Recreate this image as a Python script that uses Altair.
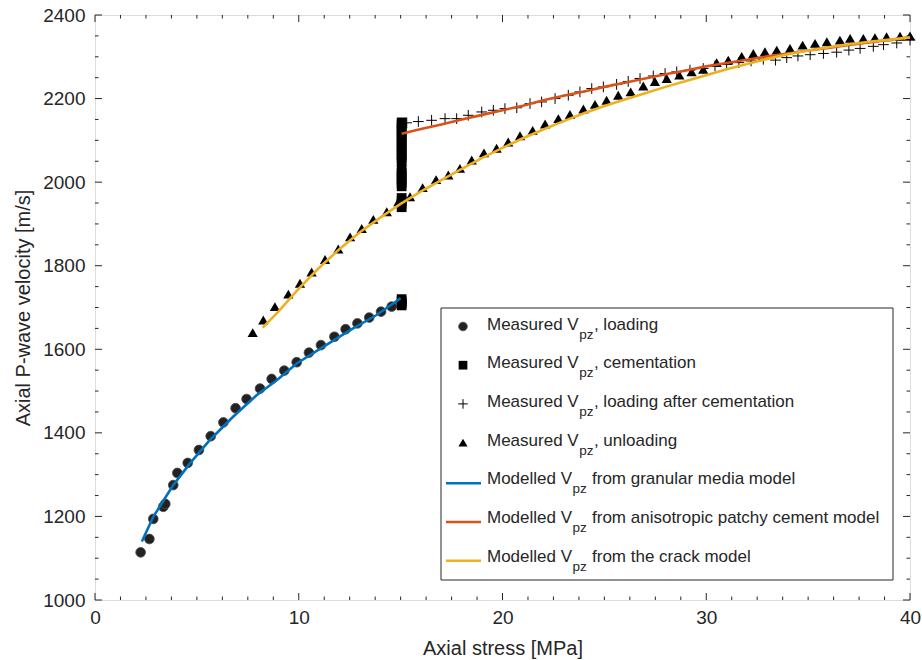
import altair as alt
import pandas as pd

# ---------------- data ----------------
x_load = [2.24, 2.67, 2.86, 3.35, 3.45, 3.84, 4.04, 4.55, 5.1, 5.68, 6.3, 6.9, 7.44, 8.1,
          8.67, 9.29, 9.9, 10.5, 11.09, 11.75, 12.3, 12.88, 13.46, 14.04, 14.56, 15.05]
v_load = [1114, 1146, 1194, 1223, 1230, 1275, 1304, 1328, 1359, 1392, 1425, 1459, 1481, 1506,
          1529, 1549, 1569, 1592, 1610, 1630, 1648, 1662, 1676, 1690, 1702, 1711]

x_cem = [15.05] * 27
v_cem = [1705, 1710, 1715, 1720, 1940, 1948, 1955, 1962, 1990, 1998, 2006, 2014, 2022, 2030,
         2050, 2058, 2066, 2074, 2082, 2090, 2098, 2106, 2114, 2122, 2130, 2138, 2143]

x_lac = [15.3, 15.87, 16.52, 17.18, 17.75, 18.32, 18.98, 19.55, 20.12, 20.7, 21.35, 21.92, 22.58,
         23.23, 23.8, 24.38, 24.95, 25.6, 26.17, 26.75, 27.4, 27.98, 28.55, 29.2, 29.85, 30.43,
         31.0, 31.6, 32.2, 32.8, 33.4, 33.95, 34.5, 35.1, 35.75, 36.4, 37.0, 37.55, 38.2, 38.7,
         39.35, 40.0]
v_lac = [2142, 2145, 2148, 2152, 2152, 2160, 2168, 2172, 2176, 2178, 2188, 2192, 2200,
         2208, 2216, 2224, 2228, 2234, 2241, 2248, 2254, 2260, 2264, 2268, 2272, 2278,
         2282, 2286, 2290, 2294, 2292, 2298, 2302, 2305, 2308, 2311, 2316, 2320, 2325, 2329,
         2333, 2340]

x_unl = [7.74, 8.26, 8.83, 9.49, 10.06, 10.63, 11.29, 11.94, 12.52, 13.09, 13.66, 14.32, 14.89,
         15.46, 16.08, 16.74, 17.34, 17.91, 18.49, 19.09, 19.71, 20.28, 20.86, 21.48, 22.09,
         22.74, 23.31, 23.97, 24.54, 25.11, 25.68, 26.29, 26.91, 27.48, 28.06, 28.68, 29.28,
         29.85, 30.51, 31.08, 31.74, 32.31, 32.88, 33.46, 34.11, 34.73, 35.34, 35.92, 36.56,
         37.06, 37.71, 38.28, 38.85, 39.51, 40.0]
v_unl = [1640, 1670, 1702, 1732, 1758, 1785, 1815, 1840, 1869, 1889, 1911, 1929, 1953,
         1965, 1987, 2006, 2017, 2033, 2053, 2070, 2081, 2096, 2111, 2124, 2139,
         2152, 2162, 2175, 2186, 2196, 2208, 2216, 2230, 2241, 2248, 2256, 2264,
         2270, 2286, 2292, 2301, 2308, 2312, 2316, 2320, 2328, 2332, 2336, 2340,
         2344, 2344, 2346, 2348, 2349, 2350]

x_gran = [2.3, 2.86, 3.84, 4.66, 5.64, 6.79, 7.93, 8.92, 9.9, 11.2, 12.52, 13.82, 15.0]
v_gran = [1140, 1199, 1275, 1327, 1383, 1439, 1490, 1526, 1566, 1606, 1646, 1682, 1722]

x_patch = [15.05, 16, 17, 18, 19, 20, 21, 22, 23, 24, 25, 26, 27, 28, 29, 30, 31, 32, 33, 34,
           35, 36, 37, 38, 39, 40]
v_patch = [2116, 2127, 2138, 2150, 2161, 2172, 2183, 2196, 2207, 2217, 2228, 2238, 2248, 2258,
           2267, 2277, 2285, 2293, 2301, 2308, 2315, 2321, 2328, 2334, 2340, 2347]

x_crack = [8.23, 9, 10, 11, 12, 13, 14, 15, 16, 17, 18, 19, 20, 21, 22, 23, 24, 25, 26, 27, 28,
           29, 30, 31, 32, 33, 34, 35, 36, 37, 38, 39, 40]
v_crack = [1652, 1690, 1745, 1795, 1840, 1880, 1915, 1948, 1978, 2005, 2032, 2058, 2082, 2105,
           2126, 2146, 2165, 2182, 2198, 2213, 2228, 2242, 2256, 2270, 2283, 2295, 2306, 2315,
           2323, 2330, 2336, 2341, 2346]

x_major = [0, 10, 20, 30, 40]
x_minor = [1.25 * k for k in range(1, 32) if k % 8 != 0]
y_major = [1000, 1200, 1400, 1600, 1800, 2000, 2200, 2400]
y_minor = [1000 + 50 * k for k in range(1, 28) if k % 4 != 0]

legend_main = ["Measured V", "Measured V", "Measured V", "Measured V",
               "Modelled V", "Modelled V", "Modelled V"]
legend_suffix = [", loading", ", cementation", ", loading after cementation", ", unloading",
                 " from granular media model", " from anisotropic patchy cement model",
                 " from the crack model"]

# ---------------- style ----------------
W, H = 815, 585
INK = "#262626"
FONT = "Liberation Sans"
BLUE, ORANGE, YELLOW = "#0072BD", "#D95319", "#EDB120"
CROSS = "M-1,0L1,0M0,-1L0,1"

xs = alt.Scale(domain=[0, 40], nice=False, zero=False)
ys = alt.Scale(domain=[1000, 2400], nice=False, zero=False)

XAXIS = alt.Axis(
    values=x_major, format="d", title="Axial stress [MPa]", ticks=False, domain=False,
    grid=False, labelFlush=False, labelOverlap=False,
    labelFont=FONT, labelFontSize=19, labelColor=INK, labelPadding=8,
    titleFont=FONT, titleFontSize=20, titleColor=INK, titleFontWeight="normal",
    titleX=W / 2, titleY=48, titleBaseline="middle", titleAlign="center")
YAXIS = alt.Axis(
    values=y_major, format="d", title="Axial P-wave velocity [m/s]", ticks=False,
    domain=False, grid=False, labelFlush=False, labelOverlap=False,
    labelFont=FONT, labelFontSize=19, labelColor=INK, labelPadding=10,
    titleFont=FONT, titleFontSize=20, titleColor=INK, titleFontWeight="normal",
    titleX=-72, titleY=H / 2, titleBaseline="middle", titleAlign="center", titleAngle=270)


def XE(field="x"):
    return alt.X(f"{field}:Q", scale=xs, axis=XAXIS)


def YE(field="y"):
    return alt.Y(f"{field}:Q", scale=ys, axis=YAXIS)


AW = {' ': 278, ',': 278, 'a': 556, 'b': 556, 'c': 500, 'd': 556, 'e': 556, 'f': 278,
      'g': 556, 'h': 556, 'i': 222, 'j': 222, 'k': 500, 'l': 222, 'm': 833, 'n': 556,
      'o': 556, 'p': 556, 'q': 556, 'r': 333, 's': 500, 't': 278, 'u': 556, 'v': 500,
      'w': 722, 'x': 500, 'y': 500, 'z': 500, 'M': 833, 'V': 667}


def tw(s, size):
    return sum(AW.get(c, 556) for c in s) * size / 1000.0


def df(x, y):
    return pd.DataFrame({"x": x, "y": y})


ticks = []
for vals, L in ((x_major, 7), (x_minor, 3.5)):
    d = pd.DataFrame({"x": vals})
    base = alt.Chart(d).mark_rule(color=INK, strokeWidth=1)
    ticks.append(base.encode(x=XE(), y=alt.value(H), y2=alt.value(H - L)))
    ticks.append(base.encode(x=XE(), y=alt.value(0), y2=alt.value(L)))
for vals, L in ((y_major, 7), (y_minor, 3.5)):
    d = pd.DataFrame({"y": vals})
    base = alt.Chart(d).mark_rule(color=INK, strokeWidth=1)
    ticks.append(base.encode(y=YE(), x=alt.value(0), x2=alt.value(L)))
    ticks.append(base.encode(y=YE(), x=alt.value(W), x2=alt.value(W - L)))

SYM = [
    dict(shape="circle", filled=True, fill="#222222", stroke="#4a4a4a", strokeWidth=0.8, size=95),
    dict(shape="square", filled=True, color="black", size=95),
    dict(shape=CROSS, filled=False, stroke="black", strokeWidth=1, size=115),
    dict(shape="triangle-up", filled=True, color="black", size=105),
]
circles = alt.Chart(df(x_load, v_load)).mark_point(opacity=1, **SYM[0]).encode(x=XE(), y=YE())
squares = alt.Chart(df(x_cem, v_cem)).mark_point(opacity=1, **SYM[1]).encode(x=XE(), y=YE())
crosses = alt.Chart(df(x_lac, v_lac)).mark_point(opacity=1, **SYM[2]).encode(x=XE(), y=YE())
tris = alt.Chart(df(x_unl, v_unl)).mark_point(opacity=1, **SYM[3]).encode(x=XE(), y=YE())

gran = alt.Chart(df(x_gran, v_gran)).mark_line(color=BLUE, strokeWidth=2.6).encode(x=XE(), y=YE())
patch = alt.Chart(df(x_patch, v_patch)).mark_line(color=ORANGE, strokeWidth=2.6).encode(x=XE(), y=YE())
crack = alt.Chart(df(x_crack, v_crack)).mark_line(color=YELLOW, strokeWidth=2.6).encode(x=XE(), y=YE())

# ---------------- legend ----------------
one = pd.DataFrame({"a": [0]})
LX0, LX1, LY0, LY1 = 346, 798, 293, 565
leg = [alt.Chart(one).mark_rect(fill="white", stroke=INK, strokeWidth=1).encode(
    x=alt.value(LX0), x2=alt.value(LX1), y=alt.value(LY0), y2=alt.value(LY1))]

MAIN, SUB = 17, 13.5
TX = 392
line_colors = [BLUE, ORANGE, YELLOW]
for i in range(7):
    base_y = 314.5 + 38.7 * i
    if i < 4:
        s = dict(SYM[i])
        s["size"] = s["size"] * 0.8
        leg.append(alt.Chart(one).mark_point(opacity=1, **s).encode(
            x=alt.value(368), y=alt.value(base_y - 3)))
    else:
        leg.append(alt.Chart(one).mark_rule(color=line_colors[i - 4], strokeWidth=2.6).encode(
            x=alt.value(351), x2=alt.value(386), y=alt.value(base_y - 1)))
    main = legend_main[i]
    suf = legend_suffix[i]
    sx = TX + tw(main, MAIN) + 0.5
    ex = sx + tw("pz", SUB) + 0.5
    if suf.startswith(" "):
        ex += tw(" ", MAIN)
        suf = suf[1:]
    for txt, x, y, fs in ((main, TX, base_y, MAIN), ("pz", sx, base_y + 9, SUB),
                          (suf, ex, base_y, MAIN)):
        leg.append(alt.Chart(one).mark_text(
            text=txt, align="left", baseline="alphabetic", font=FONT, fontSize=fs,
            color=INK).encode(x=alt.value(x), y=alt.value(y)))

chart = alt.layer(
    *ticks, circles, squares, crosses, tris, gran, patch, crack, *leg
).properties(
    width=W, height=H, autosize=alt.AutoSizeParams(type="none"),
    padding={"left": 95, "top": 15, "right": 12, "bottom": 60},
).configure_view(stroke=INK, strokeWidth=1).configure(background="white")

chart.save("out.html", embed_options={"renderer": "svg", "actions": False})
